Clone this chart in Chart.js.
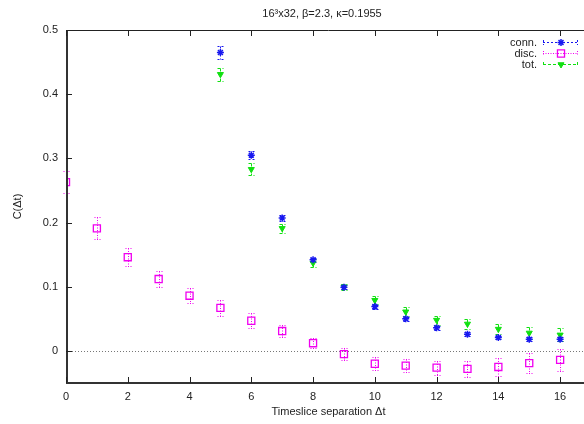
<!DOCTYPE html>
<html lang="en">
<head>
  <meta charset="UTF-8">
  <title>C(dt) - 16^3x32</title>
  <script src="https://cdn.jsdelivr.net/npm/chart.js@4.4.1/dist/chart.umd.min.js"></script>
  <style>
    html, body { margin: 0; padding: 0; background: #fff; overflow: hidden; }
    canvas { display: block; }
  </style>
</head>
<body>
  <canvas id="grafico" width="600" height="424"></canvas>

<script>
  // dados
  const tDisc = [0, 1, 2, 3, 4, 5, 6, 7, 8, 9, 10, 11, 12, 13, 14, 15, 16];
  const disc = [0.263, 0.191, 0.146, 0.112, 0.086, 0.067, 0.047, 0.031, 0.012, -0.005, -0.020, -0.023, -0.026, -0.028, -0.025, -0.019, -0.014];
  const discErr = [0.017, 0.017, 0.014, 0.013, 0.012, 0.012, 0.012, 0.009, 0.008, 0.009, 0.010, 0.010, 0.011, 0.012, 0.014, 0.016, 0.017];

  const tConn = [5, 6, 7, 8, 9, 10, 11, 12, 13, 14, 15, 16];
  const conn = [0.465, 0.305, 0.207, 0.142, 0.099, 0.069, 0.050, 0.036, 0.026, 0.021, 0.018, 0.018];
  const connErr = [0.010, 0.006, 0.004, 0.003, 0.003, 0.003, 0.003, 0.003, 0.003, 0.003, 0.003, 0.003];

  const tTot = [5, 6, 7, 8, 9, 10, 11, 12, 13, 14, 15, 16];
  const tot = [0.431, 0.283, 0.191, 0.137, 0.100, 0.079, 0.061, 0.048, 0.042, 0.034, 0.028, 0.025];
  const totErr = [0.010, 0.009, 0.007, 0.006, 0.005, 0.006, 0.007, 0.007, 0.008, 0.008, 0.009, 0.010];

  const xTicks = [0, 2, 4, 6, 8, 10, 12, 14, 16];
  const yTicks = [0, 0.1, 0.2, 0.3, 0.4, 0.5];

  const titulo = '16\u00b3x32, \u03b2=2.3, \u03ba=0.1955';
  const fonte = '"Liberation Sans", Arial, Helvetica, sans-serif';

  // cores e estilos de cada serie
  const cores = { conn: '#1818f0', disc: '#f000f0', tot: '#10e010' };

  function pontos(xs, ys) {
    return xs.map((x, i) => ({ x: x, y: ys[i] }));
  }

  const erros = [connErr, discErr, totErr];
  const tracos = [[2, 2], [1, 1.5], [3, 2]];

  const data = {
    datasets: [
      {
        label: 'conn.',
        data: pontos(tConn, conn),
        borderColor: cores.conn,
        backgroundColor: cores.conn,
        pointStyle: 'star',
        pointRadius: 3.5,
        borderWidth: 1.5,
        showLine: false
      },
      {
        label: 'disc.',
        data: pontos(tDisc, disc),
        borderColor: cores.disc,
        backgroundColor: 'rgba(0,0,0,0)',
        pointStyle: 'rect',
        pointRadius: 5,
        borderWidth: 1.3,
        showLine: false
      },
      {
        label: 'tot.',
        data: pontos(tTot, tot),
        borderColor: cores.tot,
        backgroundColor: cores.tot,
        pointStyle: 'triangle',
        rotation: 180,
        pointRadius: 3.5,
        borderWidth: 1,
        showLine: false
      }
    ]
  };

  // barras de erro, linha do zero, moldura, legenda e titulo
  const extras = {
    id: 'extras',
    beforeDatasetsDraw(chart) {
      const ctx = chart.ctx;
      const xs = chart.scales.x, ys = chart.scales.y;
      const area = chart.chartArea;

      // linha pontilhada em y = 0
      ctx.save();
      ctx.strokeStyle = '#777';
      ctx.lineWidth = 1;
      ctx.setLineDash([1, 2]);
      const y0 = Math.round(ys.getPixelForValue(0)) + 0.5;
      ctx.beginPath();
      ctx.moveTo(area.left, y0);
      ctx.lineTo(area.right, y0);
      ctx.stroke();
      ctx.restore();

      chart.data.datasets.forEach((ds, k) => {
        const cor = [cores.conn, cores.disc, cores.tot][k];
        ds.data.forEach((p, i) => {
          const px = Math.round(xs.getPixelForValue(p.x)) + 0.5;
          const yt = Math.round(ys.getPixelForValue(p.y + erros[k][i])) + 0.5;
          const yb = Math.round(ys.getPixelForValue(p.y - erros[k][i])) + 0.5;
          ctx.save();
          ctx.strokeStyle = cor;
          ctx.lineWidth = 1;
          ctx.setLineDash(tracos[k]);
          ctx.beginPath();
          ctx.moveTo(px, yt);
          ctx.lineTo(px, yb);
          ctx.moveTo(px - 3, yt);
          ctx.lineTo(px + 3, yt);
          ctx.moveTo(px - 3, yb);
          ctx.lineTo(px + 3, yb);
          ctx.stroke();
          ctx.restore();
        });
      });
    },
    afterDraw(chart) {
      const ctx = chart.ctx;
      const xs = chart.scales.x, ys = chart.scales.y;
      const area = chart.chartArea;

      ctx.save();
      // moldura
      ctx.strokeStyle = '#222';
      ctx.lineWidth = 1;
      ctx.beginPath();
      ctx.moveTo(area.left, area.top + 0.5);
      ctx.lineTo(area.right, area.top + 0.5);
      ctx.stroke();
      ctx.strokeStyle = '#333';
      ctx.lineWidth = 2;
      ctx.beginPath();
      ctx.moveTo(area.left + 1, area.top);
      ctx.lineTo(area.left + 1, area.bottom);
      ctx.lineTo(area.right, area.bottom);
      ctx.stroke();

      // marcas para dentro
      ctx.lineWidth = 1;
      ctx.strokeStyle = '#222';
      ctx.beginPath();
      xTicks.forEach(v => {
        const px = Math.round(xs.getPixelForValue(v)) + 0.5;
        ctx.moveTo(px, area.bottom);
        ctx.lineTo(px, area.bottom - 6);
        ctx.moveTo(px, area.top);
        ctx.lineTo(px, area.top + 6);
      });
      yTicks.forEach(v => {
        const py = Math.round(ys.getPixelForValue(v)) + 0.5;
        ctx.moveTo(area.left, py);
        ctx.lineTo(area.left + 6, py);
      });
      ctx.stroke();

      // titulo
      ctx.fillStyle = '#222';
      ctx.font = '11px ' + fonte;
      ctx.textAlign = 'center';
      ctx.textBaseline = 'middle';
      ctx.fillText(titulo, 322, 14);

      // legenda
      const xTexto = 537, xIni = 543, xFim = 578;
      chart.data.datasets.forEach((ds, k) => {
        const cor = [cores.conn, cores.disc, cores.tot][k];
        const ly = 42 + k * 11;
        ctx.fillStyle = '#222';
        ctx.textAlign = 'right';
        ctx.fillText(ds.label, xTexto, ly + 0.5);
        ctx.strokeStyle = cor;
        ctx.lineWidth = 1;
        ctx.setLineDash(tracos[k]);
        ctx.beginPath();
        ctx.moveTo(xIni, ly + 0.5);
        ctx.lineTo(xFim, ly + 0.5);
        ctx.moveTo(xIni + 0.5, ly - 2);
        ctx.lineTo(xIni + 0.5, ly + 3);
        ctx.moveTo(xFim - 0.5, ly - 2);
        ctx.lineTo(xFim - 0.5, ly + 3);
        ctx.stroke();
        ctx.setLineDash([]);
        // drawPoint preenche e contorna com o estilo atual do contexto
        ctx.fillStyle = ds.backgroundColor;
        ctx.strokeStyle = cor;
        ctx.lineWidth = ds.borderWidth;
        Chart.helpers.drawPoint(ctx, {
          pointStyle: ds.pointStyle,
          radius: ds.pointRadius,
          rotation: ds.rotation || 0,
          borderWidth: ds.borderWidth
        }, (xIni + xFim) / 2 + 0.5, ly + 0.5);
      });
      ctx.restore();
    }
  };

  const config = {
    type: 'scatter',
    data: data,
    options: {
      responsive: false,
      animation: false,
      devicePixelRatio: 1,
      layout: { padding: { top: 30, right: 9, left: 0, bottom: 0 } },
      plugins: {
        legend: { display: false },
        tooltip: { enabled: false }
      },
      scales: {
        x: {
          type: 'linear',
          min: 0,
          max: 17,
          afterBuildTicks: s => { s.ticks = xTicks.map(v => ({ value: v })); },
          afterFit: s => { s.height = 41; },
          grid: { display: false, drawTicks: false },
          border: { display: false },
          ticks: { color: '#222', font: { family: fonte, size: 11 }, padding: 7, maxRotation: 0 },
          title: { display: true, text: 'Timeslice separation \u0394t', color: '#222', font: { family: fonte, size: 11 }, padding: { top: 0, bottom: 5 } }
        },
        y: {
          type: 'linear',
          min: -0.05,
          max: 0.5,
          afterBuildTicks: s => { s.ticks = yTicks.map(v => ({ value: v })); },
          afterFit: s => { s.width = 66; },
          grid: { display: false, drawTicks: false },
          border: { display: false },
          ticks: { color: '#222', font: { family: fonte, size: 11 }, padding: 8, callback: v => String(v) },
          title: { display: true, text: 'C(\u0394t)', color: '#222', font: { family: fonte, size: 11 }, padding: { top: 11, bottom: 0 } }
        }
      }
    },
    plugins: [extras]
  };

  const myChart = new Chart(document.getElementById('grafico'), config);
</script>
</body>
</html>
